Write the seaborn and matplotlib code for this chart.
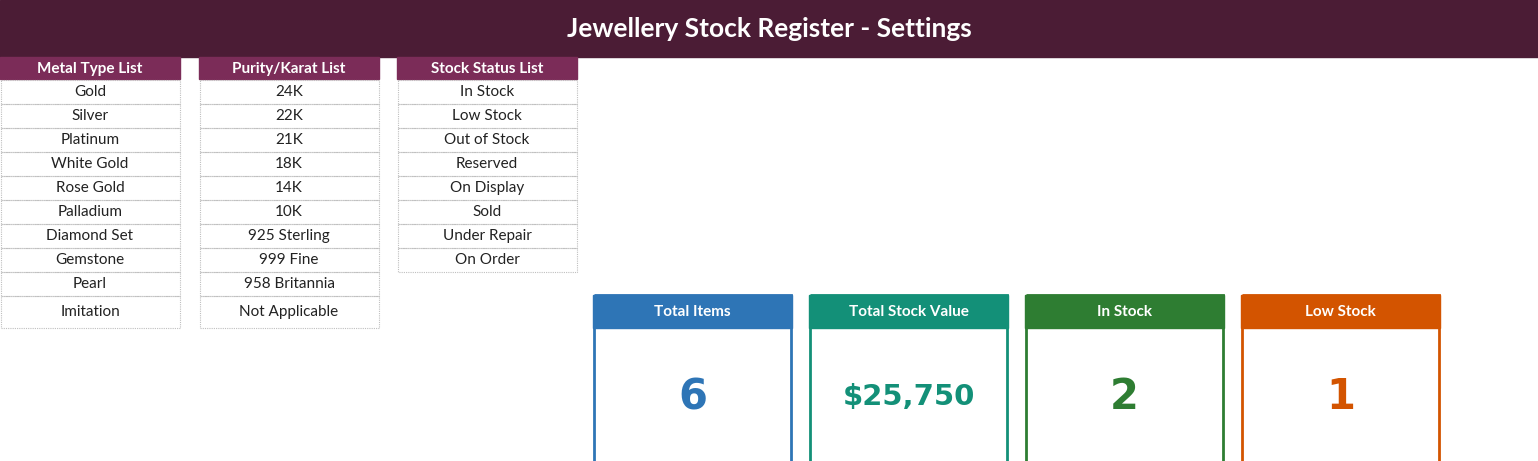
import matplotlib
matplotlib.use("Agg")
import matplotlib.pyplot as plt
import seaborn as sns
from matplotlib.patches import Rectangle

sns.set_style("white")
plt.rcParams['font.family'] = ['Lato', 'DejaVu Sans']

title = "Jewellery Stock Register - Settings"
metal_types = ["Gold", "Silver", "Platinum", "White Gold", "Rose Gold", "Palladium",
               "Diamond Set", "Gemstone", "Pearl", "Imitation"]
purities = ["24K", "22K", "21K", "18K", "14K", "10K", "925 Sterling", "999 Fine",
            "958 Britannia", "Not Applicable"]
statuses = ["In Stock", "Low Stock", "Out of Stock", "Reserved", "On Display", "Sold",
            "Under Repair", "On Order"]
list_headers = ["Metal Type List", "Purity/Karat List", "Stock Status List"]
kpi_labels = ["Total Items", "Total Stock Value", "In Stock", "Low Stock"]
kpi_values = ["6", "$25,750", "2", "1"]
kpi_colors = ["#2E75B6", "#139078", "#2E7D32", "#D35400"]

W, H = 1538, 461
fig = plt.figure(figsize=(W/100, H/100), dpi=100)
ax = fig.add_axes([0, 0, 1, 1])
ax.set_xlim(0, W); ax.set_ylim(H, 0); ax.axis("off")

ax.add_patch(Rectangle((0, 0), W, 57, color="#4B1C35"))
ax.text(W/2 - 0, 29, title, color="white", fontsize=19, fontweight="bold",
        ha="center", va="center")

cols_x = [0, 199, 397]
lists = [metal_types, purities, statuses]
for x0, hdr, items in zip(cols_x, list_headers, lists):
    w = 180
    ax.add_patch(Rectangle((x0, 57), w, 22, color="#7B2C58"))
    ax.text(x0 + w/2, 69, hdr, color="white", fontsize=11, fontweight="bold",
            ha="center", va="center")
    y = 80
    for i, it in enumerate(items):
        h = 32 if i == 9 else 24
        ax.add_patch(Rectangle((x0 + 0.5, y), w - 1, h, fill=False, ec="#BFBFBF",
                               lw=0.8, ls=(0, (1, 1))))
        ax.text(x0 + w/2, y + h/2, it, color="#222222", fontsize=11,
                ha="center", va="center")
        y += h

for i, (lab, val, c) in enumerate(zip(kpi_labels, kpi_values, kpi_colors)):
    x0 = 593 + i * 216
    w = 199
    ax.add_patch(Rectangle((x0, 295), w, 33, color=c))
    ax.add_patch(Rectangle((x0 + 1, 295), w - 2, 200, fill=False, ec=c, lw=2))
    ax.text(x0 + w/2, 312, lab, color="white", fontsize=11, fontweight="bold",
            ha="center", va="center")
    ax.text(x0 + w/2, 397, val, color=c, fontsize=30 if len(val) < 3 else 21,
            fontweight="bold", ha="center", va="center", family=["DejaVu Sans"])

fig.savefig("out.png", dpi=100)
